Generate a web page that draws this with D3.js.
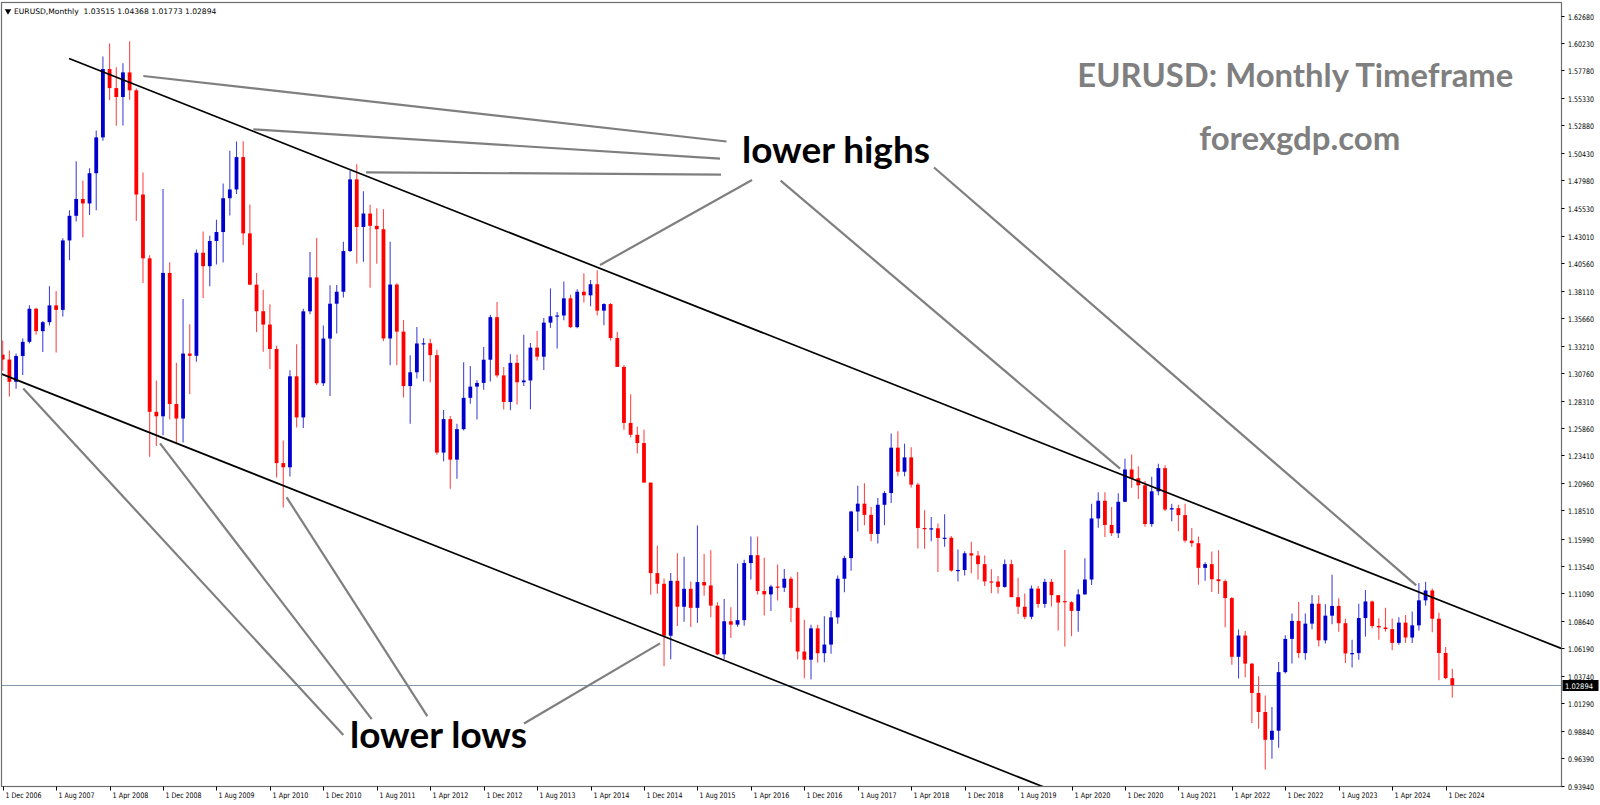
<!DOCTYPE html>
<html><head><meta charset="utf-8">
<script src="https://cdn.jsdelivr.net/npm/d3@7"></script>
<style>
html,body{margin:0;padding:0;background:#fff;overflow:hidden}
svg{display:block}
</style></head><body>
<svg id="chart" width="1600" height="805"></svg>
<script>
// ---------------- DATA ----------------
const symbolName = "EURUSD,Monthly";
const lastQuote = ["1.03515", "1.04368", "1.01773", "1.02894"];
const firstMonth = "2006-12";
const lastMonth = "2025-01";

// monthly OHLC, Dec 2006 .. Jan 2025 (one row per year)
const openPrices = [
  1.3240,
  1.3197,1.2998,1.3228,1.3355,1.3650,1.3450,1.3530,1.3680,1.3640,1.4260,1.4480,1.4630,
  1.4590,1.4860,1.5180,1.5790,1.5620,1.5540,1.5760,1.5600,1.4670,1.4100,1.2730,1.2690,
  1.3970,1.2800,1.2670,1.3250,1.3230,1.4150,1.4030,1.4255,1.4335,1.4637,1.4715,1.5004,
  1.4323,1.3865,1.3628,1.3509,1.3291,1.2272,1.2235,1.3047,1.2680,1.3627,1.3930,1.2985,
  1.3384,1.3695,1.3802,1.4165,1.4805,1.4380,1.4500,1.4390,1.4360,1.3385,1.3866,1.3446,
  1.2960,1.3083,1.3340,1.3342,1.3236,1.2366,1.2665,1.2303,1.2575,1.2855,1.2955,1.2988,
  1.3195,1.3575,1.3055,1.2818,1.3167,1.2994,1.3010,1.3303,1.3222,1.3526,1.3583,1.3590,
  1.3743,1.3486,1.3802,1.3770,1.3869,1.3633,1.3692,1.3389,1.3131,1.2631,1.2525,1.2451,
  1.2098,1.1290,1.1195,1.0731,1.1221,1.0990,1.1150,1.0980,1.1210,1.1180,1.1000,1.0565,
  1.0860,1.0830,1.0870,1.1380,1.1450,1.1130,1.1100,1.1170,1.1160,1.1240,1.0980,1.0590,
  1.0517,1.0797,1.0575,1.0652,1.0895,1.1240,1.1424,1.1840,1.1910,1.1810,1.1640,1.1900,
  1.2005,1.2410,1.2195,1.2323,1.2080,1.1693,1.1684,1.1690,1.1604,1.1606,1.1313,1.1318,
  1.1467,1.1447,1.1370,1.1216,1.1215,1.1167,1.1370,1.1075,1.0990,1.0900,1.1152,1.1015,
  1.1212,1.1093,1.1040,1.1030,1.0953,1.1100,1.1233,1.1778,1.1936,1.1720,1.1646,1.1927,
  1.2215,1.2137,1.2074,1.1728,1.2020,1.2227,1.1858,1.1870,1.1808,1.1580,1.1557,1.1337,
  1.1370,1.1235,1.1218,1.1067,1.0543,1.0733,1.0482,1.0220,1.0050,0.9802,0.9883,1.0406,
  1.0703,1.0863,1.0576,1.0839,1.1017,1.0690,1.0910,1.0997,1.0843,1.0573,1.0576,1.0889,
  1.1037,1.0818,1.0805,1.0790,1.0667,1.0848,1.0715,1.0824,1.1047,1.1135,1.0883,1.0577,
  1.03515
];
const highPrices = [
  1.3367,
  1.3277,1.3250,1.3385,1.3682,1.3660,1.3540,1.3852,1.3808,1.4280,1.4529,1.4966,1.4796,
  1.4905,1.5241,1.5903,1.6019,1.5806,1.5842,1.6038,1.5616,1.4867,1.4128,1.3010,1.4720,
  1.4066,1.3169,1.3738,1.3512,1.4180,1.4339,1.4302,1.4444,1.4769,1.5061,1.5143,1.5145,
  1.4580,1.3969,1.3819,1.3691,1.3320,1.2474,1.3101,1.3334,1.3650,1.4157,1.4282,1.3500,
  1.3860,1.3861,1.4249,1.4881,1.4940,1.4700,1.4578,1.4548,1.4538,1.4248,1.3877,1.3549,
  1.3234,1.3487,1.3386,1.3383,1.3283,1.2747,1.2692,1.2624,1.3172,1.3140,1.3012,1.3309,
  1.3597,1.3711,1.3130,1.3243,1.3242,1.3417,1.3345,1.3452,1.3568,1.3832,1.3620,1.3893,
  1.3775,1.3824,1.3967,1.3906,1.3994,1.3700,1.3701,1.3444,1.3148,1.2887,1.2600,1.2570,
  1.2100,1.1534,1.1243,1.1290,1.1467,1.1436,1.1216,1.1714,1.1460,1.1495,1.1030,1.1059,
  1.0986,1.1376,1.1410,1.1616,1.1616,1.1428,1.1186,1.1366,1.1327,1.1259,1.1300,1.0874,
  1.0829,1.0829,1.0906,1.0951,1.1268,1.1446,1.1847,1.2070,1.2092,1.1880,1.1961,1.2023,
  1.2537,1.2556,1.2446,1.2414,1.2097,1.1852,1.1791,1.1734,1.1815,1.1622,1.1500,1.1486,
  1.1570,1.1488,1.1448,1.1324,1.1264,1.1412,1.1410,1.1249,1.1109,1.1179,1.1175,1.1239,
  1.1239,1.1095,1.1496,1.1039,1.1147,1.1422,1.1909,1.2011,1.2011,1.1881,1.2004,1.2310,
  1.2349,1.2243,1.2113,1.2150,1.2266,1.2254,1.1909,1.1900,1.1909,1.1692,1.1616,1.1386,
  1.1483,1.1495,1.1233,1.1076,1.0787,1.0774,1.0486,1.0369,1.0198,1.0094,1.0497,1.0736,
  1.0929,1.1033,1.0930,1.1095,1.1092,1.1012,1.1276,1.1065,1.0882,1.0695,1.1017,1.1139,
  1.1046,1.0888,1.0981,1.0885,1.0895,1.0916,1.0948,1.1202,1.1214,1.1153,1.0937,1.0630,
  1.04368
];
const lowPrices = [
  1.3097,
  1.2866,1.2935,1.3058,1.3339,1.3418,1.3265,1.3500,1.3260,1.3580,1.4084,1.4428,1.4287,
  1.4486,1.4529,1.5149,1.5512,1.5283,1.5285,1.5516,1.4434,1.3881,1.2329,1.2424,1.2520,
  1.2661,1.2454,1.2456,1.2887,1.3176,1.3745,1.3850,1.4046,1.4064,1.4482,1.4675,1.4220,
  1.3859,1.3441,1.3266,1.3113,1.2143,1.1876,1.2152,1.2589,1.2586,1.3600,1.2969,1.2960,
  1.2872,1.3429,1.3750,1.4156,1.4055,1.4070,1.3837,1.4051,1.3361,1.3145,1.3146,1.2858,
  1.2623,1.3028,1.3003,1.2995,1.2346,1.2288,1.2043,1.2133,1.2563,1.2803,1.2661,1.2926,
  1.3000,1.3036,1.2750,1.2745,1.2796,1.2960,1.2754,1.3187,1.3103,1.3479,1.3295,1.3548,
  1.3477,1.3476,1.3705,1.3673,1.3590,1.3503,1.3367,1.3132,1.2570,1.2500,1.2357,1.2100,
  1.1098,1.1105,1.0458,1.0520,1.0819,1.0856,1.0809,1.0848,1.1087,1.0896,1.0557,1.0524,
  1.0711,1.0810,1.0821,1.1234,1.1098,1.0912,1.0952,1.1046,1.1122,1.0852,1.0518,1.0352,
  1.0341,1.0493,1.0494,1.0570,1.0839,1.1119,1.1312,1.1662,1.1717,1.1575,1.1554,1.1718,
  1.1915,1.2155,1.2154,1.2055,1.1510,1.1508,1.1575,1.1300,1.1526,1.1302,1.1216,1.1269,
  1.1289,1.1234,1.1176,1.1110,1.1107,1.1160,1.1101,1.0926,1.0879,1.0879,1.0981,1.0981,
  1.0992,1.0778,1.0636,1.0727,1.0767,1.1096,1.1185,1.1696,1.1612,1.1622,1.1603,1.1925,
  1.2053,1.1952,1.1704,1.1704,1.1986,1.1845,1.1752,1.1664,1.1563,1.1524,1.1186,1.1221,
  1.1121,1.1106,1.0806,1.0471,1.0349,1.0359,0.9952,0.9901,0.9536,0.9632,0.9730,1.0393,
  1.0483,1.0533,1.0516,1.0788,1.0635,1.0662,1.0834,1.0766,1.0488,1.0448,1.0516,1.0723,
  1.0795,1.0695,1.0768,1.0601,1.0650,1.0668,1.0666,1.0778,1.1001,1.0761,1.0333,1.0343,
  1.01773
];
const closePrices = [
  1.3197,
  1.2998,1.3228,1.3355,1.3650,1.3450,1.3530,1.3680,1.3640,1.4260,1.4480,1.4630,1.4590,
  1.4860,1.5180,1.5790,1.5620,1.5540,1.5760,1.5600,1.4670,1.4100,1.2730,1.2690,1.3970,
  1.2800,1.2670,1.3250,1.3230,1.4150,1.4030,1.4255,1.4335,1.4637,1.4715,1.5004,1.4323,
  1.3865,1.3628,1.3509,1.3291,1.2272,1.2235,1.3047,1.2680,1.3627,1.3930,1.2985,1.3384,
  1.3695,1.3802,1.4165,1.4805,1.4380,1.4500,1.4390,1.4360,1.3385,1.3866,1.3446,1.2960,
  1.3083,1.3340,1.3342,1.3236,1.2366,1.2665,1.2303,1.2575,1.2855,1.2955,1.2988,1.3195,
  1.3575,1.3055,1.2818,1.3167,1.2994,1.3010,1.3303,1.3222,1.3526,1.3583,1.3590,1.3743,
  1.3486,1.3802,1.3770,1.3869,1.3633,1.3692,1.3389,1.3131,1.2631,1.2525,1.2451,1.2098,
  1.1290,1.1195,1.0731,1.1221,1.0990,1.1150,1.0980,1.1210,1.1180,1.1000,1.0565,1.0860,
  1.0830,1.0870,1.1380,1.1450,1.1130,1.1100,1.1170,1.1160,1.1240,1.0980,1.0590,1.0517,
  1.0797,1.0575,1.0652,1.0895,1.1240,1.1424,1.1840,1.1910,1.1810,1.1640,1.1900,1.2005,
  1.2410,1.2195,1.2323,1.2080,1.1693,1.1684,1.1690,1.1604,1.1606,1.1313,1.1318,1.1467,
  1.1447,1.1370,1.1216,1.1215,1.1167,1.1370,1.1075,1.0990,1.0900,1.1152,1.1015,1.1212,
  1.1093,1.1027,1.1030,1.0953,1.1100,1.1233,1.1778,1.1936,1.1720,1.1646,1.1927,1.2215,
  1.2137,1.2074,1.1728,1.2020,1.2227,1.1858,1.1870,1.1808,1.1580,1.1557,1.1337,1.1370,
  1.1235,1.1218,1.1067,1.0543,1.0733,1.0482,1.0220,1.0050,0.9802,0.9883,1.0406,1.0703,
  1.0863,1.0576,1.0839,1.1017,1.0690,1.0910,1.0997,1.0843,1.0573,1.0576,1.0889,1.1037,
  1.0818,1.0805,1.0790,1.0667,1.0848,1.0715,1.0824,1.1047,1.1135,1.0883,1.0577,1.0353,
  1.02894
];

const xTickLabels = ["1 Dec 2006","1 Aug 2007","1 Apr 2008","1 Dec 2008","1 Aug 2009","1 Apr 2010",
  "1 Dec 2010","1 Aug 2011","1 Apr 2012","1 Dec 2012","1 Aug 2013","1 Apr 2014","1 Dec 2014",
  "1 Aug 2015","1 Apr 2016","1 Dec 2016","1 Aug 2017","1 Apr 2018","1 Dec 2018","1 Aug 2019",
  "1 Apr 2020","1 Dec 2020","1 Aug 2021","1 Apr 2022","1 Dec 2022","1 Aug 2023","1 Apr 2024","1 Dec 2024"];
const yTickLabels = ["1.62680","1.60230","1.57780","1.55330","1.52880","1.50430","1.47980","1.45530",
  "1.43010","1.40560","1.38110","1.35660","1.33210","1.30760","1.28310","1.25860","1.23410","1.20960",
  "1.18510","1.15990","1.13540","1.11090","1.08640","1.06190","1.03740","1.01290","0.98840","0.96390","0.93940"];

// channel lines: [month index, price]
const upperChannel = [[9.93, 1.5884], [233.4, 1.0616]];
const lowerChannel = [[-0.2, 1.3069], [165, 0.9164]];

// annotation pointer lines: [month index, price] -> [month index, price]
const highPointers = [
  [[21.05, 1.5728], [108.35, 1.5143]],
  [[37.51, 1.5252], [107.38, 1.4991]],
  [[54.39, 1.4868], [107.53, 1.4848]],
  [[89.42, 1.4040], [112.17, 1.4799]],
  [[116.45, 1.4794], [167.26, 1.2223]],
  [[139.42, 1.4911], [211.6, 1.1180]]
];
const lowPointers = [
  [[3.08, 1.2939], [50.99, 0.9844]],
  [[23.55, 1.2448], [55.24, 0.9987]],
  [[42.51, 1.1966], [63.56, 1.0014]],
  [[78.04, 0.9948], [98.4, 1.0663]]
];
const annotations = [
  {text: "lower highs", at: [110.67, 1.4951], size: 37, width: 188, color: "#000"},
  {text: "lower lows", at: [51.99, 0.9725], size: 37, width: 177, color: "#000"},
  {text: "EURUSD: Monthly Timeframe", at: [160.87, 1.5632], size: 33, width: 436, color: "#7f7f7f"},
  {text: "forexgdp.com", at: [179.13, 1.5067], size: 33, width: 201, color: "#7f7f7f"}
];

// ---------------- CHART ----------------
const W = 1600, H = 805;
const plot = {left: 1.5, top: 2.5, right: 1561.5, bottom: 786.5};
const svg = d3.select("#chart");

const months = d3.timeMonth.range(d3.timeParse("%Y-%m")(firstMonth),
                                  d3.timeMonth.offset(d3.timeParse("%Y-%m")(lastMonth), 1));
const candles = months.map((m, i) => ({m, i, o: openPrices[i], h: highPrices[i], l: lowPrices[i], c: closePrices[i]}));

const x = d3.scaleLinear().domain([0, candles.length - 1]).range([2.7, 1452.3]);
const y = d3.scaleLinear().domain([0.9394, 1.6268]).range([785.5, 15.5]);

svg.append("rect").attr("width", W).attr("height", H).attr("fill", "#fff");

svg.append("defs").append("clipPath").attr("id", "clip")
  .append("rect").attr("x", plot.left).attr("y", plot.top)
  .attr("width", plot.right - plot.left).attr("height", plot.bottom - plot.top);

const g = svg.append("g").attr("clip-path", "url(#clip)");

// current price line
const lastClose = +lastQuote[3];
g.append("line")
  .attr("x1", plot.left).attr("x2", plot.right)
  .attr("y1", Math.round(y(lastClose)) + 0.5).attr("y2", Math.round(y(lastClose)) + 0.5)
  .attr("stroke", "#8496ab").attr("stroke-width", 1);

// candles
const bullBody = "#0000cd", bearBody = "#ff0000";
const bullWick = "#4646dc", bearWick = "#ff4a4a";
const cg = g.append("g");
cg.selectAll("line.wick").data(candles).join("line")
  .attr("class", "wick")
  .attr("x1", d => x(d.i)).attr("x2", d => x(d.i))
  .attr("y1", d => y(d.h)).attr("y2", d => y(d.l))
  .attr("stroke", d => d.c >= d.o ? bullWick : bearWick)
  .attr("stroke-width", 1.1);
cg.selectAll("rect.body").data(candles).join("rect")
  .attr("class", "body")
  .attr("x", d => x(d.i) - 1.9).attr("width", 3.8)
  .attr("y", d => y(Math.max(d.o, d.c)))
  .attr("height", d => Math.max(1.2, Math.abs(y(d.o) - y(d.c))))
  .attr("fill", d => d.c >= d.o ? bullBody : bearBody);

// channel lines
const line = d3.line().x(p => x(p[0])).y(p => y(p[1]));
[upperChannel, lowerChannel].forEach(pts => {
  g.append("path").attr("d", line(pts)).attr("fill", "none")
    .attr("stroke", "#000").attr("stroke-width", 1.7);
});

// pointer lines
[...highPointers, ...lowPointers].forEach(pts => {
  g.append("path").attr("d", line(pts)).attr("fill", "none")
    .attr("stroke", "#7f7f7f").attr("stroke-width", 2.2);
});

// annotation texts
annotations.forEach(a => {
  g.append("text")
    .attr("x", x(a.at[0])).attr("y", y(a.at[1]))
    .attr("font-family", "Lato, 'Open Sans', sans-serif")
    .attr("font-weight", "bold")
    .attr("font-size", a.size)
    .attr("textLength", a.width)
    .attr("lengthAdjust", "spacingAndGlyphs")
    .attr("fill", a.color)
    .text(a.text);
});

// frame
svg.append("rect").attr("x", plot.left).attr("y", plot.top)
  .attr("width", plot.right - plot.left).attr("height", plot.bottom - plot.top)
  .attr("fill", "none").attr("stroke", "#6e6e6e").attr("stroke-width", 1.2);

// right price axis
const axisFont = "Tahoma, 'DejaVu Sans', 'Liberation Sans', sans-serif";
const ya = svg.append("g");
yTickLabels.forEach(lbl => {
  const yy = Math.round(y(+lbl)) + 0.5;
  ya.append("line").attr("x1", plot.right).attr("x2", plot.right + 3)
    .attr("y1", yy).attr("y2", yy).attr("stroke", "#000").attr("stroke-width", 1);
  ya.append("text").attr("x", 1568).attr("y", yy + 3)
    .attr("font-family", axisFont).attr("font-size", 7.6).attr("fill", "#000")
    .attr("textLength", 26).attr("lengthAdjust", "spacingAndGlyphs")
    .text(lbl);
});
// last price tag
const ly = Math.round(y(lastClose)) + 0.5;
ya.append("rect").attr("x", plot.right + 1).attr("y", ly - 5.5).attr("width", 36).attr("height", 11).attr("fill", "#000");
ya.append("text").attr("x", 1565).attr("y", ly + 3)
  .attr("font-family", axisFont).attr("font-size", 7.6).attr("fill", "#fff")
  .attr("textLength", 28).attr("lengthAdjust", "spacingAndGlyphs")
  .text(lastQuote[3]);

// bottom time axis
const parseTick = d3.timeParse("%d %b %Y");
const xa = svg.append("g");
xTickLabels.forEach(lbl => {
  const t = parseTick(lbl);
  const idx = months.findIndex(m => +m === +t);
  const xx = Math.round(x(idx)) + 0.5;
  xa.append("line").attr("x1", xx).attr("x2", xx)
    .attr("y1", plot.bottom).attr("y2", plot.bottom + 4)
    .attr("stroke", "#000").attr("stroke-width", 1);
  xa.append("text").attr("x", xx + 2).attr("y", 798)
    .attr("font-family", axisFont).attr("font-size", 7.6).attr("fill", "#000")
    .attr("textLength", 36).attr("lengthAdjust", "spacingAndGlyphs")
    .text(lbl);
});

// header
const hdr = svg.append("g");
hdr.append("path").attr("d", d3.symbol(d3.symbolTriangle, 18)())
  .attr("transform", "translate(8,11) rotate(180)").attr("fill", "#000");
hdr.append("text").attr("x", 14).attr("y", 14)
  .attr("font-family", axisFont).attr("font-size", 7.6).attr("fill", "#000")
  .attr("xml:space", "preserve")
  .text(symbolName + "  " + lastQuote.join(" "));
</script>
</body></html>
